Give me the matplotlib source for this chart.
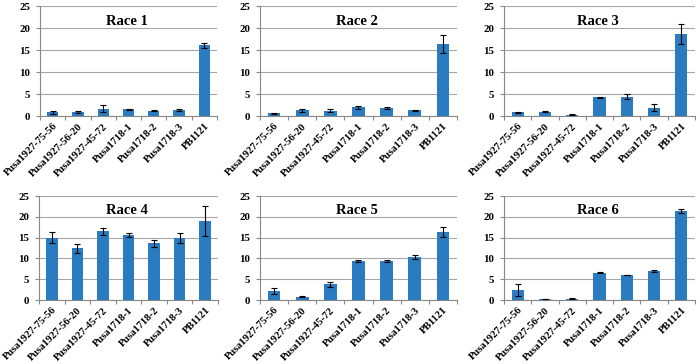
import matplotlib.pyplot as plt
import numpy as np

lines = ["Pusa1927-75-56", "Pusa1927-56-20", "Pusa1927-45-72",
         "Pusa1718-1", "Pusa1718-2", "Pusa1718-3", "PB1121"]
races = ["Race 1", "Race 2", "Race 3", "Race 4", "Race 5", "Race 6"]

race1 = [0.9, 0.95, 1.7, 1.5, 1.2, 1.3, 16.1]
race1_err = [0.35, 0.3, 0.7, 0.1, 0.1, 0.25, 0.6]
race2 = [0.6, 1.3, 1.2, 2.0, 1.8, 1.3, 16.3]
race2_err = [0.1, 0.4, 0.3, 0.3, 0.3, 0.15, 2.0]
race3 = [0.8, 1.0, 0.3, 4.3, 4.4, 1.9, 18.6]
race3_err = [0.15, 0.15, 0.1, 0.1, 0.5, 0.8, 2.3]
race4 = [15.0, 12.4, 16.5, 15.6, 13.6, 15.0, 18.9]
race4_err = [1.3, 1.0, 0.8, 0.5, 0.8, 1.2, 3.6]
race5 = [2.1, 0.8, 3.8, 9.4, 9.4, 10.3, 16.3]
race5_err = [0.7, 0.1, 0.6, 0.3, 0.3, 0.5, 1.2]
race6 = [2.4, 0.2, 0.35, 6.6, 6.0, 6.9, 21.4]
race6_err = [1.4, 0.05, 0.05, 0.1, 0.1, 0.2, 0.5]

values = [race1, race2, race3, race4, race5, race6]
errors = [race1_err, race2_err, race3_err, race4_err, race5_err, race6_err]

plt.rcParams['font.family'] = ['Liberation Serif', 'DejaVu Serif']
plt.rcParams['font.weight'] = 'bold'

fig = plt.figure(figsize=(7, 3.64), dpi=100)

# положення панелей у пікселях: (left, right, top, bottom)
boxes = [(40, 217, 6, 116), (260, 457, 6, 116), (504, 695, 6, 116),
         (39, 218, 196, 300), (260, 457, 196, 300), (504, 695, 196, 300)]

x = np.arange(len(lines))
for i in range(6):
    l, r, t, b = boxes[i]
    ax = fig.add_axes([l / 700, 1 - b / 364, (r - l) / 700, (b - t) / 364])
    ax.bar(x, values[i], width=0.45, color='#2a7bc0', zorder=3,
           yerr=errors[i], error_kw=dict(ecolor='black', elinewidth=0.8,
                                         capsize=2, capthick=0.8))
    ax.set_ylim(0, 25)
    ax.set_yticks([0, 5, 10, 15, 20, 25])
    ax.set_xlim(-0.5, 6.5)
    ax.set_xticks(x)
    ax.set_xticklabels(lines, rotation=45, ha='right', rotation_mode='anchor',
                       fontsize=7.6, fontweight='bold')
    ax.tick_params(axis='y', labelsize=7.8, length=3, color='#888888',
                   width=0.8, pad=4)
    ax.tick_params(axis='x', length=0, pad=4)
    # мітки між категоріями
    ax.set_xticks(np.arange(-0.5, 7, 1), minor=True)
    ax.tick_params(axis='x', which='minor', length=3, color='#888888', width=0.8)
    ax.grid(axis='y', color='#a6a6a6', linewidth=0.8, zorder=0)
    for s in ['top', 'right']:
        ax.spines[s].set_visible(False)
    ax.spines['left'].set_color('#888888')
    ax.spines['bottom'].set_color('#888888')
    ax.text(0.49, 0.86, races[i], transform=ax.transAxes, ha='center',
            va='center', fontsize=10.5, fontweight='bold')

fig.savefig('out.png', dpi=100)
